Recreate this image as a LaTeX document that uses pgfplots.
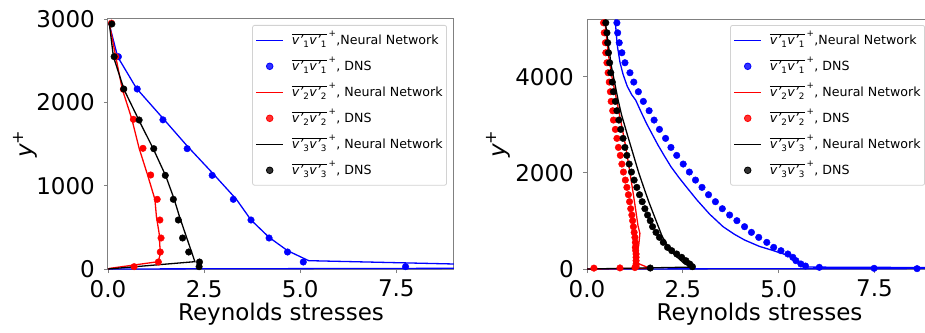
\documentclass[border=0pt]{standalone}
\usepackage{fontspec}
\setmainfont{DejaVu Sans}
\usepackage{pgfplots}
\pgfplotsset{compat=1.18}
\newcommand{\sfs}{\fontsize{8.8}{9}\selectfont}
\newcommand{\vv}[1]{$\overline{{\mbox{\itshape v'}}_{\mbox{\sfs #1}}{\mbox{\itshape v'}}_{\mbox{\sfs #1}}}^{\,\mbox{\sfs +}}$}
\pgfplotsset{
  myaxis/.style={
    scale only axis, height=250pt,
    xmin=0, xmax=9, ymin=0,
    xtick={0,2.5,5,7.5},
    xticklabels={\mbox{0.0},\mbox{2.5},\mbox{5.0},\mbox{7.5}},
    axis line style={draw=gray, line width=1pt},
    tick style={draw=gray, line width=0.8pt},
    tick align=outside, major tick length=4pt,
    xtick pos=bottom, ytick pos=left,
    ticklabel style={font=\fontsize{23}{27}\selectfont},
    xticklabel style={inner sep=0pt, anchor=north, yshift=-7pt},
    yticklabel style={inner sep=0pt, anchor=east, xshift=-9pt},
    xlabel={Reynolds stresses},
    xlabel style={at={(axis description cs:0.5,0)}, anchor=base, yshift=-51pt, font=\fontsize{23}{27}\selectfont, inner sep=0pt},
    ylabel={\textit{y}\textsuperscript{+}},
    ylabel style={anchor=center, font=\fontsize{23}{27}\selectfont, inner sep=0pt},
    legend style={at={(axis description cs:1,1)}, anchor=north east, xshift=-7pt, yshift=-6pt,
      draw=gray!35, line width=0.8pt, rounded corners=2pt, fill=white, fill opacity=0.8, text opacity=1,
      inner xsep=3pt, inner ysep=5.4pt, row sep=7pt, column sep=7pt,
      font=\fontsize{12.6}{15}\selectfont,
      nodes={inner sep=1pt, text height=13pt, text depth=4pt}},
    legend cell align=left,
    legend image code/.code={\draw[mark repeat=2,mark phase=2] plot coordinates {(0pt,0pt)(13.5pt,0pt)(27pt,0pt)};},
    nn/.style={line width=1.3pt, no marks},
    dns/.style={only marks, mark=*, mark size=3.3pt},
  }
}
\begin{document}
\begin{tikzpicture}
\begin{axis}[myaxis, width=346pt, at={(108pt,63pt)}, anchor=south west,
  ymax=3000, ytick={0,1000,2000,3000}, yticklabels={\mbox{0},\mbox{1000},\mbox{2000},\mbox{3000}},
  ylabel style={at={(axis description cs:-0.24,0.5)}}]
\addplot[nn, blue] coordinates {(0.02,2960) (0.25,2548) (0.74,2168) (1.43,1808) (2.06,1476) (2.71,1156) (3.34,836) (3.72,588) (4.19,380) (4.67,220) (5.22,100) (9,60) (14,12.6) (0,0)};
\addlegendentry{\vv{1},Neural Network}
\addplot[dns, blue] coordinates {(0.27,2548) (0.76,2160) (1.43,1790) (2.06,1444) (2.71,1124) (3.26,836) (3.72,588) (4.19,372) (4.67,204) (5.08,84) (7.74,28)};
\addlegendentry{\vv{1}, DNS}
\addplot[nn, red] coordinates {(0.03,2960) (0.2,2550) (0.37,2160) (0.62,1800) (0.81,1448) (1.03,1128) (1.22,836) (1.26,628) (1.33,428) (1.36,188) (1.31,88) (0.05,8) (0,0)};
\addlegendentry{\vv{2}, Neural Network}
\addplot[dns, red] coordinates {(0.09,2950) (0.2,2548) (0.40,2156) (0.66,1796) (0.91,1448) (1.11,1128) (1.28,836) (1.35,588) (1.38,372) (1.36,204) (1.31,84) (0.68,28)};
\addlegendentry{\vv{2}, DNS}
\addplot[nn, black] coordinates {(0.03,2960) (0.14,2550) (0.42,2150) (0.8,1790) (1.18,1440) (1.5,1120) (1.72,840) (1.86,628) (2.26,88) (0,0)};
\addlegendentry{\vv{3}, Neural Network}
\addplot[dns, black] coordinates {(0.10,2940) (0.16,2548) (0.41,2160) (0.81,1788) (1.19,1444) (1.49,1124) (1.70,836) (1.83,588) (1.94,372) (2.10,204) (2.38,84) (2.37,28)};
\addlegendentry{\vv{3}, DNS}
\end{axis}
\begin{axis}[myaxis, width=345pt, at={(587pt,63pt)}, anchor=south west,
  ymax=5200, ytick={0,2000,4000}, yticklabels={\mbox{0},\mbox{2000},\mbox{4000}},
  ylabel style={at={(axis description cs:-0.258,0.5)}}]
\addplot[nn, blue] coordinates {(0.74,5190) (0.76,4900) (0.80,4600) (0.86,4300) (0.94,4050) (1.05,3800) (1.17,3620) (1.27,3513) (1.42,3250) (1.55,3030) (1.69,2820) (1.85,2580) (2.02,2350) (2.19,2128) (2.40,1900) (2.62,1680) (2.87,1434) (3.2,1140) (3.55,880) (3.85,720) (4.11,603) (4.5,470) (4.81,395) (5.1,320) (5.37,240) (5.50,150) (5.58,80) (5.75,40) (9,30) (12,12) (0,0)};
\addlegendentry{\vv{1},Neural Network}
\addplot[dns, blue] coordinates {(0.78,5121) (0.80,4913) (0.84,4706) (0.91,4498) (0.99,4290) (1.12,4082) (1.22,3888) (1.34,3687) (1.47,3486) (1.62,3292) (1.75,3098) (1.89,2904) (2.05,2717) (2.19,2529) (2.34,2363) (2.51,2183) (2.67,2017) (2.83,1850) (3.00,1698) (3.17,1545) (3.35,1400) (3.53,1254) (3.72,1123) (3.91,1005) (4.11,880) (4.29,762) (4.48,658) (4.69,554) (4.87,450) (5.06,381) (5.24,312) (5.37,243) (5.45,173) (5.58,104) (5.70,62) (6.06,35) (7.49,14) (8.61,7)};
\addlegendentry{\vv{1}, DNS}
\addplot[nn, red] coordinates {(0.46,5190) (0.55,4500) (0.65,4000) (0.77,3520) (0.9,3000) (1.02,2500) (1.12,2000) (1.2,1600) (1.27,1230) (1.33,900) (1.38,740) (1.35,500) (1.3,300) (1.27,180) (1.35,110) (1.64,14) (0,0)};
\addlegendentry{\vv{2}, Neural Network}
\addplot[dns, red] coordinates {(0.43,5121) (0.45,4913) (0.48,4706) (0.49,4498) (0.52,4290) (0.55,4082) (0.58,3888) (0.61,3687) (0.63,3486) (0.67,3292) (0.69,3098) (0.74,2904) (0.78,2717) (0.82,2529) (0.87,2363) (0.91,2183) (0.95,2017) (1.00,1850) (1.04,1698) (1.08,1545) (1.11,1400) (1.14,1254) (1.17,1123) (1.19,1005) (1.21,880) (1.23,762) (1.25,658) (1.26,554) (1.26,450) (1.27,381) (1.28,312) (1.28,243) (1.28,173) (1.28,104) (1.28,60) (1.25,30) (0.86,22) (0.18,18)};
\addlegendentry{\vv{2}, DNS}
\addplot[nn, black] coordinates {(0.47,5190) (0.55,4700) (0.64,4200) (0.74,3800) (0.81,3520) (0.90,3210) (1.05,2800) (1.2,2400) (1.35,2000) (1.5,1650) (1.62,1380) (1.78,1050) (1.95,700) (2.14,410) (2.34,256) (2.55,104) (2.75,40) (0,0)};
\addlegendentry{\vv{3}, Neural Network}
\addplot[dns, black] coordinates {(0.49,5121) (0.52,4913) (0.54,4706) (0.56,4498) (0.59,4290) (0.62,4082) (0.66,3888) (0.69,3687) (0.74,3486) (0.78,3292) (0.83,3098) (0.88,2904) (0.94,2717) (0.99,2529) (1.04,2363) (1.10,2183) (1.16,2017) (1.23,1850) (1.30,1698) (1.37,1545) (1.44,1400) (1.51,1254) (1.58,1123) (1.65,1005) (1.71,880) (1.80,762) (1.89,658) (1.99,554) (2.10,450) (2.21,381) (2.34,312) (2.47,243) (2.58,173) (2.68,104) (2.75,48) (1.65,20)};
\addlegendentry{\vv{3}, DNS}
\end{axis}
\pgfresetboundingbox
\path[use as bounding box] (0,0) rectangle (925pt,332pt);
\end{tikzpicture}
\end{document}
